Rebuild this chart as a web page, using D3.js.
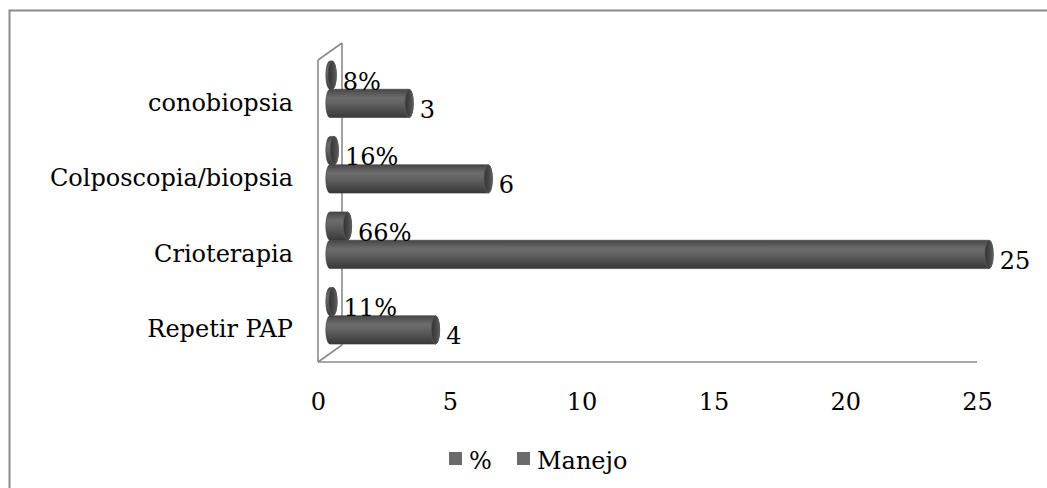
<!DOCTYPE html>
<html>
<head>
<meta charset="utf-8">
<script src="https://cdn.jsdelivr.net/npm/d3@7"></script>
<style>
  html, body { margin: 0; padding: 0; background: #fff; }
  svg { display: block; }
  text { font-family: "DejaVu Serif", serif; fill: #000; }
</style>
</head>
<body>
<svg id="chart" width="1047" height="488"></svg>
<script>
// Categories, listed bottom to top as in the source sheet
const categories = ["Repetir PAP", "Crioterapia", "Colposcopia/biopsia", "conobiopsia"];
// Share of cases (drawn on the same axis as the counts)
const pctValues = [0.11, 0.66, 0.16, 0.08];
// Number of cases per management option
const manejoValues = [4, 25, 6, 3];
const seriesNames = ["%", "Manejo"];
const xTicks = [0, 5, 10, 15, 20, 25];

const svg = d3.select("#chart");

// plot geometry (front plane of the 3D box)
const plotLeft = 318, plotRight = 977, plotTop = 60, plotBottom = 362;
const depthX = 24, depthY = -17;        // oblique depth of the box
const barShiftX = 12, barShiftY = -8.5; // bars sit half way into the depth
const capRx = 4.2;

const x = d3.scaleLinear().domain([0, 25]).range([plotLeft, plotRight]);
const y = d3.scaleBand()
  .domain(categories.slice().reverse())
  .range([plotTop, plotBottom])
  .paddingInner(0.25)
  .paddingOuter(0.125);
const sub = d3.scaleBand().domain(seriesNames).range([0, y.bandwidth()]);

// outer frame
svg.append("rect")
  .attr("x", 9.5).attr("y", 10.5)
  .attr("width", 1100).attr("height", 600)
  .attr("fill", "none").attr("stroke", "#8a8a8a").attr("stroke-width", 2);

// gradients for the cylinders
const defs = svg.append("defs");
const g1 = defs.append("linearGradient").attr("id", "body")
  .attr("x1", 0).attr("y1", 0).attr("x2", 0).attr("y2", 1);
[[0, "#474747"], [0.3, "#6c6c6c"], [0.5, "#626262"], [1, "#383838"]]
  .forEach(([o, c]) => g1.append("stop").attr("offset", o).attr("stop-color", c));
const g2 = defs.append("linearGradient").attr("id", "cap")
  .attr("x1", 0).attr("y1", 0).attr("x2", 1).attr("y2", 0);
[[0, "#333"], [0.6, "#484848"], [1, "#5e5e5e"]]
  .forEach(([o, c]) => g2.append("stop").attr("offset", o).attr("stop-color", c));

// box walls
const wall = svg.append("g").attr("stroke", "#8a8a8a").attr("stroke-width", 1.6).attr("fill", "none");
wall.append("line").attr("x1", plotLeft + depthX).attr("y1", plotTop + depthY)
  .attr("x2", plotLeft + depthX).attr("y2", plotBottom + depthY);
wall.append("line").attr("x1", plotLeft).attr("y1", plotTop).attr("x2", plotLeft).attr("y2", plotBottom);
wall.append("line").attr("x1", plotLeft).attr("y1", plotTop).attr("x2", plotLeft + depthX).attr("y2", plotTop + depthY);
wall.append("line").attr("x1", plotLeft).attr("y1", plotBottom).attr("x2", plotLeft + depthX).attr("y2", plotBottom + depthY);
wall.append("line").attr("x1", plotLeft).attr("y1", plotBottom).attr("x2", plotRight).attr("y2", plotBottom);

// bars as horizontal cylinders
const rows = categories.map((c, i) => ({ cat: c, "%": pctValues[i], "Manejo": manejoValues[i] }));
const marks = [];
rows.forEach(r => seriesNames.forEach(s => marks.push({ cat: r.cat, series: s, value: r[s] })));

const bars = svg.append("g");
marks.forEach(m => {
  const y0 = y(m.cat) + barShiftY + sub(m.series);
  const h = sub.bandwidth();
  const ry = h / 2;
  const x0 = x(0) + barShiftX;
  const x1 = x(m.value) + barShiftX;
  const path = `M${x0},${y0} L${x1},${y0} A${capRx},${ry} 0 0 1 ${x1},${y0 + h} L${x0},${y0 + h} A${capRx},${ry} 0 0 1 ${x0},${y0} Z`;
  bars.append("path").attr("d", path).attr("fill", "url(#body)")
    .attr("stroke", "#3a3a3a").attr("stroke-width", 0.6);
  bars.append("ellipse").attr("cx", x1).attr("cy", y0 + ry)
    .attr("rx", capRx).attr("ry", ry)
    .attr("fill", "url(#cap)").attr("stroke", "#5a5a5a").attr("stroke-width", 0.8);
  const label = m.series === "%" ? d3.format(".0%")(m.value) : d3.format("d")(m.value);
  svg.append("text")
    .attr("x", x1 + capRx + 6.5)
    .attr("y", y0 + ry + 14.5)
    .attr("font-size", 24)
    .text(label);
});

// category labels
svg.append("g").selectAll("text").data(categories).join("text")
  .attr("x", 293)
  .attr("y", d => y(d) + y.bandwidth() / 2 + 13)
  .attr("text-anchor", "end")
  .attr("font-size", 24)
  .text(d => d);

// value axis
const axis = svg.append("g").attr("transform", `translate(0,${plotBottom})`)
  .call(d3.axisBottom(x).tickValues(xTicks).tickSize(0).tickPadding(31).tickFormat(d3.format("d")));
axis.select(".domain").remove();
axis.selectAll("text").attr("font-size", 24).attr("font-family", "DejaVu Serif").attr("fill", "#000");

// legend
const legendItems = [
  { name: "%", sx: 449, tx: 469 },
  { name: "Manejo", sx: 517, tx: 537 }
];
const lg = svg.append("g");
legendItems.forEach(d => {
  lg.append("rect").attr("x", d.sx).attr("y", 452).attr("width", 13).attr("height", 13).attr("fill", "#6b6b6b");
  lg.append("text").attr("x", d.tx).attr("y", 469).attr("font-size", 24).text(d.name);
});
</script>
</body>
</html>
